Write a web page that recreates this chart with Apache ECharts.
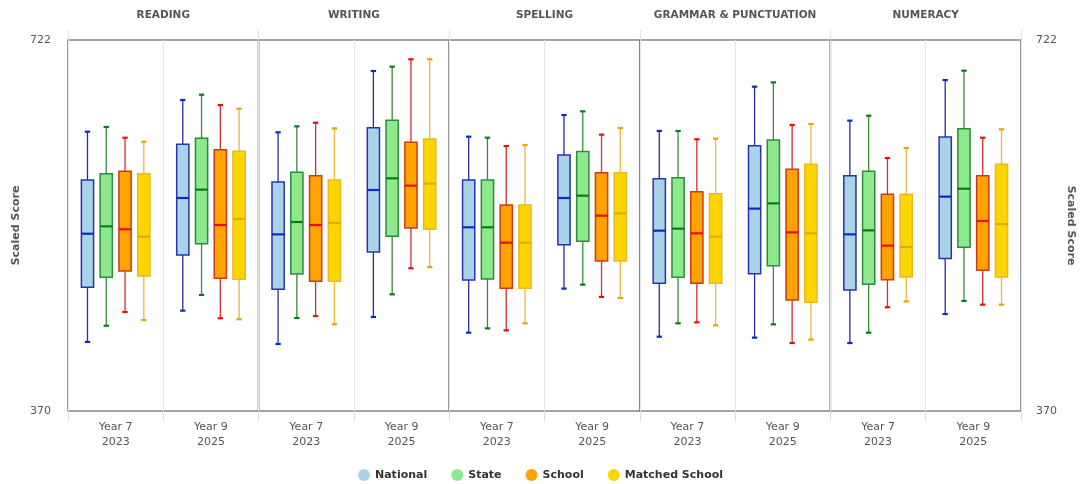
<!DOCTYPE html>
<html>
<head>
<meta charset="utf-8">
<script src="https://cdn.jsdelivr.net/npm/echarts@6/dist/echarts.min.js"></script>
<style>
html,body{margin:0;padding:0;background:#fff;}
#chart{width:1081px;height:484px;}
</style>
</head>
<body>
<div id="chart"></div>
<script>
// ---- data ----
const subjects = ['READING', 'WRITING', 'SPELLING', 'GRAMMAR & PUNCTUATION', 'NUMERACY'];
const yearLabels = ['Year 7\n2023', 'Year 9\n2025'];
const seriesNames = ['National', 'State', 'School', 'Matched School'];
const yMin = 370;
const yMax = 722;

// each entry: [Year 7 box, Year 9 box], box = [low, Q1, median, Q3, high]
const national = [
  [[435.5, 487.4, 538.2, 589.2, 635.0], [465.2, 518.0, 572.1, 623.0, 665.1]],
  [[433.6, 485.5, 537.6, 587.3, 634.4], [459.2, 520.9, 579.7, 638.8, 692.6]],
  [[444.3, 494.3, 544.3, 589.2, 630.3], [486.1, 527.8, 572.1, 612.9, 650.8]],
  [[440.5, 491.1, 541.1, 590.4, 635.7], [439.6, 500.3, 562.0, 621.7, 677.7]],
  [[434.5, 484.8, 537.6, 593.3, 645.5], [462.0, 514.8, 573.4, 630.0, 684.0]]
];
const state = [
  [[450.9, 496.9, 545.2, 595.1, 639.5], [480.1, 528.7, 580.0, 628.7, 670.1]],
  [[458.2, 500.0, 549.3, 596.5, 640.1], [480.7, 535.7, 590.8, 645.8, 696.7]],
  [[448.4, 495.2, 544.3, 589.2, 629.3], [489.9, 531.0, 574.3, 616.1, 654.3]],
  [[453.2, 496.8, 543.0, 591.4, 635.7], [452.2, 507.9, 567.0, 627.1, 681.8]],
  [[444.3, 490.2, 541.4, 597.4, 650.2], [474.4, 525.3, 580.9, 637.9, 692.9]]
];
const school = [
  [[463.9, 502.8, 542.4, 597.4, 629.3], [458.0, 495.9, 546.5, 617.9, 660.3]],
  [[460.1, 493.1, 546.5, 593.2, 643.5], [505.4, 543.6, 583.8, 624.9, 703.7]],
  [[446.5, 486.4, 529.7, 565.4, 621.4], [478.2, 512.3, 555.3, 596.1, 632.2]],
  [[454.1, 491.1, 538.6, 578.1, 627.8], [434.5, 475.3, 539.5, 599.3, 641.4]],
  [[468.4, 494.6, 526.9, 575.6, 610.0], [470.9, 503.5, 550.3, 593.3, 629.3]]
];
const matchedSchool = [
  [[456.3, 498.1, 535.4, 595.1, 625.5], [457.0, 495.0, 552.2, 616.4, 656.8]],
  [[452.3, 493.1, 548.4, 589.2, 638.2], [506.6, 542.4, 585.7, 628.1, 703.7]],
  [[453.2, 486.4, 529.7, 565.4, 622.4], [477.2, 512.3, 557.5, 596.1, 638.5]],
  [[451.3, 491.1, 535.4, 576.2, 628.4], [437.7, 473.1, 538.6, 604.0, 642.3]],
  [[474.0, 497.1, 525.6, 575.6, 619.5], [470.9, 497.1, 547.4, 604.0, 637.2]]
];
const seriesData = [national, state, school, matchedSchool];

// ---- styles ----
const fills    = ['#A9D3E9', '#8EE88E', '#FFA300', '#FFD500'];
const borders  = ['#2634B0', '#2F8A3A', '#CC3A18', '#EAB820'];
const medians  = ['#0A2CC0', '#0B7A1B', '#E01010', '#E3A800'];
const whiskers = ['#2A2AA8', '#3A8A3A', '#D03030', '#E8B840'];

const FONT = 'DejaVu Sans';
const gridLeft = 68, gridTop = 40, gridH = 371, panelW = 190.6;

const grids = [], xAxes = [], yAxes = [], series = [];

subjects.forEach((subj, i) => {
  grids.push({
    left: gridLeft + i * panelW, top: gridTop, width: panelW, height: gridH,
    show: true, borderColor: '#858585', borderWidth: 1.6, backgroundColor: '#fff',
    containLabel: false
  });
  // bottom category axis
  xAxes.push({
    type: 'category', gridIndex: i, data: yearLabels, position: 'bottom',
    axisLine: { show: false },
    axisTick: { show: true, length: 10, lineStyle: { color: '#dcdcdc' } },
    splitLine: { show: true, lineStyle: { color: '#e4e4e4', width: 1 } },
    axisLabel: { color: '#555', fontFamily: FONT, fontSize: 11, lineHeight: 15, margin: 9 }
  });
  // top axis used as panel title
  xAxes.push({
    type: 'category', gridIndex: i, data: [subj], position: 'top',
    axisLine: { show: false },
    axisTick: { show: true, length: 10, lineStyle: { color: '#e2e2e2' } },
    splitLine: { show: false },
    axisLabel: { color: '#555', fontFamily: FONT, fontSize: 10.5, fontWeight: 'bold', margin: 19 }
  });
  const isFirst = i === 0, isLast = i === subjects.length - 1;
  yAxes.push({
    type: 'value', gridIndex: i, min: yMin, max: yMax,
    position: isLast ? 'right' : 'left',
    axisLine: { show: false }, axisTick: { show: false }, splitLine: { show: false },
    axisLabel: {
      show: isFirst || isLast, color: '#555', fontFamily: FONT, fontSize: 11,
      margin: isFirst ? 17 : 15,
      showMinLabel: true, showMaxLabel: true,
      formatter: v => (v === yMin || v === yMax) ? String(v) : ''
    },
    name: (isFirst || isLast) ? 'Scaled Score' : '',
    nameLocation: 'middle',
    nameGap: isFirst ? 46 : 44,
    nameRotate: isFirst ? 90 : -90,
    nameTextStyle: { color: '#555', fontFamily: FONT, fontSize: 11, fontWeight: 'bold' }
  });

  seriesNames.forEach((sName, s) => {
    const boxes = seriesData[s][i];
    series.push({
      type: 'custom', name: sName,
      xAxisIndex: 2 * i, yAxisIndex: i,
      itemStyle: { color: fills[s] },
      encode: { x: 0, y: [1, 2, 3, 4, 5] },
      data: boxes.map((b, c) => [c].concat(b)),
      renderItem: (params, api) => {
        const cat = api.value(0);
        const band = api.size([1, 0])[0];
        const py = k => api.coord([cat, api.value(k)])[1];
        const cx = api.coord([cat, api.value(3)])[0] + (s - 1.5) * band * 0.197;
        const lo = py(1), q1 = py(2), md = py(3), q3 = py(4), hi = py(5);
        const hw = band * 0.064, cw = band * 0.028;
        return {
          type: 'group',
          children: [
            { type: 'line', shape: { x1: cx, y1: q3, x2: cx, y2: hi }, style: { stroke: whiskers[s], lineWidth: 1.3 } },
            { type: 'line', shape: { x1: cx, y1: q1, x2: cx, y2: lo }, style: { stroke: whiskers[s], lineWidth: 1.3 } },
            { type: 'line', shape: { x1: cx - cw, y1: hi, x2: cx + cw, y2: hi }, style: { stroke: medians[s], lineWidth: 2.2 } },
            { type: 'line', shape: { x1: cx - cw, y1: lo, x2: cx + cw, y2: lo }, style: { stroke: medians[s], lineWidth: 2.2 } },
            { type: 'rect', shape: { x: cx - hw, y: q3, width: 2 * hw, height: q1 - q3 }, style: { fill: fills[s], stroke: borders[s], lineWidth: 1.5 } },
            { type: 'line', shape: { x1: cx - hw, y1: md, x2: cx + hw, y2: md }, style: { stroke: medians[s], lineWidth: 2.2 } }
          ]
        };
      }
    });
  });
});

const chart = echarts.init(document.getElementById('chart'), null, { renderer: 'canvas' });
chart.setOption({
  animation: false,
  backgroundColor: '#fff',
  grid: grids,
  xAxis: xAxes,
  yAxis: yAxes,
  legend: {
    top: 464, left: 'center',
    itemWidth: 12, itemHeight: 12, itemGap: 24,
    icon: 'circle',
    textStyle: { color: '#333', fontFamily: FONT, fontSize: 11, fontWeight: 'bold' },
    data: seriesNames.map((n, s) => ({ name: n, itemStyle: { color: fills[s], borderWidth: 0 } }))
  },
  series: series
});
</script>
</body>
</html>
